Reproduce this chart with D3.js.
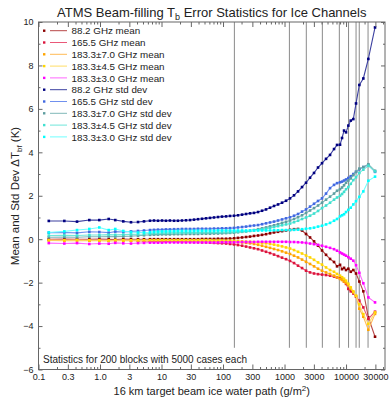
<!DOCTYPE html>
<html>
<head>
<meta charset="utf-8">
<script src="https://cdn.jsdelivr.net/npm/d3@7"></script>
<style>
  body { margin: 0; background: #fff; }
  svg { display: block; font-family: "Liberation Sans", Arial, Helvetica, sans-serif; }
</style>
</head>
<body>
<svg id="chart" width="390" height="400"></svg>
<script>
// Block-mean ice water path (g/m^2) of each plotted block
const iwp = [0.147,0.263,0.423,0.67,0.974,1.385,1.77,2.39,3.19,4.15,5.19,6.50,
  7.55,8.77,10.2,11.8,13.7,16.0,18.5,21.5,25.0,29.1,33.8,39.2,45.6,52.9,61.5,71.4,82.9,96.3,112,130,
  151,175,204,237,275,319,371,431,500,581,675,784,911,1058,1229,1427,1658,1926,2237,2598,3018,3505,4072,4730,5494,
  6381,7142,7989,8610,9280,10000,10900,11930,13140,14540,16460,19110,23050,29610];

// Mean beam-filling error (K)
const mean882 = [0.00,0.01,-0.01,0.00,0.01,0.00,-0.02,0.01,0.00,0.00,0.00,0.00,
  0.00,0.00,0.00,0.00,0.00,0.00,0.00,0.00,0.00,0.00,0.00,0.00,0.01,0.01,0.01,0.01,0.02,0.02,0.02,0.03,
  0.04,0.06,0.08,0.10,0.12,0.15,0.17,0.20,0.23,0.27,0.31,0.34,0.37,0.40,0.43,0.46,0.47,0.40,0.24,0.08,-0.10,-0.30,-0.52,-0.72,-0.91,
  -1.05,-1.25,-1.18,-1.38,-1.32,-1.42,-1.36,-1.50,-1.42,-1.58,-1.95,-2.40,-3.60,-4.49];
const mean1655 = [-0.03,-0.04,-0.02,-0.05,-0.04,-0.06,-0.05,-0.05,-0.06,-0.07,-0.08,-0.09,
  -0.10,-0.10,-0.11,-0.11,-0.12,-0.12,-0.12,-0.13,-0.13,-0.13,-0.14,-0.14,-0.15,-0.15,-0.16,-0.17,-0.18,-0.19,-0.20,-0.22,
  -0.24,-0.27,-0.30,-0.34,-0.38,-0.42,-0.46,-0.52,-0.58,-0.64,-0.71,-0.78,-0.85,-0.92,-1.00,-1.10,-1.22,-1.33,-1.45,-1.53,-1.58,-1.61,-1.63,-1.65,-1.68,
  -1.72,-1.76,-1.80,-1.83,-1.95,-2.06,-2.29,-2.40,-2.50,-2.65,-2.83,-3.14,-3.67,-3.34];
const mean1837 = [-0.06,-0.07,-0.06,-0.07,-0.07,-0.08,-0.07,-0.07,-0.07,-0.07,-0.07,-0.07,
  -0.07,-0.07,-0.07,-0.07,-0.07,-0.07,-0.07,-0.07,-0.07,-0.07,-0.07,-0.07,-0.08,-0.08,-0.08,-0.09,-0.09,-0.10,-0.10,-0.11,
  -0.12,-0.13,-0.15,-0.17,-0.19,-0.22,-0.26,-0.30,-0.35,-0.40,-0.45,-0.50,-0.56,-0.62,-0.68,-0.76,-0.84,-0.94,-1.04,-1.14,-1.25,-1.36,-1.45,-1.53,-1.60,
  -1.68,-1.76,-1.83,-1.88,-1.95,-2.02,-2.12,-2.29,-2.45,-2.62,-3.20,-3.57,-4.17,-3.44];
const mean18345 = [-0.04,-0.05,-0.04,-0.05,-0.05,-0.06,-0.05,-0.05,-0.05,-0.05,-0.05,-0.05,
  -0.05,-0.05,-0.05,-0.05,-0.05,-0.05,-0.05,-0.05,-0.05,-0.05,-0.05,-0.05,-0.05,-0.05,-0.05,-0.06,-0.06,-0.06,-0.07,-0.07,
  -0.08,-0.09,-0.10,-0.11,-0.12,-0.13,-0.15,-0.17,-0.19,-0.22,-0.25,-0.29,-0.33,-0.38,-0.43,-0.50,-0.58,-0.66,-0.75,-0.84,-0.95,-1.07,-1.17,-1.30,-1.42,
  -1.50,-1.60,-1.68,-1.75,-1.82,-1.91,-2.05,-2.22,-2.40,-2.60,-3.00,-3.45,-3.90,-3.37];
const mean1833 = [-0.18,-0.20,-0.18,-0.22,-0.20,-0.21,-0.17,-0.19,-0.20,-0.18,-0.17,-0.16,
  -0.16,-0.16,-0.16,-0.15,-0.15,-0.15,-0.15,-0.15,-0.15,-0.15,-0.15,-0.15,-0.15,-0.15,-0.15,-0.15,-0.15,-0.14,-0.14,-0.14,
  -0.14,-0.14,-0.13,-0.13,-0.13,-0.13,-0.12,-0.12,-0.12,-0.12,-0.12,-0.12,-0.12,-0.12,-0.13,-0.13,-0.14,-0.15,-0.17,-0.20,-0.23,-0.26,-0.30,-0.35,-0.40,
  -0.46,-0.53,-0.61,-0.66,-0.71,-0.76,-0.83,-0.90,-0.99,-1.20,-1.55,-2.03,-2.68,-2.91];

// Standard deviation of the beam-filling error (K)
const std882 = [0.84,0.84,0.81,0.88,0.88,0.93,0.88,0.82,0.78,0.79,0.82,0.85,
  0.86,0.85,0.86,0.85,0.86,0.85,0.85,0.86,0.87,0.88,0.90,0.92,0.94,0.96,0.98,1.00,1.02,1.04,1.05,1.07,
  1.08,1.10,1.13,1.16,1.19,1.21,1.25,1.31,1.37,1.45,1.53,1.60,1.68,1.77,1.88,2.02,2.20,2.40,2.60,2.83,3.05,3.30,3.50,3.70,3.88,
  4.15,4.34,4.35,4.66,5.00,4.92,5.23,5.46,5.53,6.25,7.10,7.40,8.30,9.75];
const std1655 = [0.30,0.31,0.29,0.34,0.33,0.30,0.35,0.33,0.36,0.38,0.40,0.42,
  0.43,0.44,0.44,0.45,0.45,0.46,0.46,0.47,0.47,0.47,0.47,0.48,0.48,0.48,0.48,0.49,0.49,0.50,0.50,0.51,
  0.52,0.54,0.56,0.58,0.61,0.63,0.65,0.69,0.73,0.77,0.81,0.86,0.91,0.96,1.01,1.08,1.16,1.27,1.37,1.50,1.63,1.76,1.88,2.10,2.35,
  2.50,2.58,2.62,2.65,2.70,2.75,2.82,2.90,3.00,3.10,3.22,3.32,3.42,3.10];
const std1837 = [0.09,0.10,0.09,0.11,0.11,0.12,0.12,0.13,0.14,0.16,0.18,0.20,
  0.21,0.21,0.22,0.22,0.22,0.23,0.23,0.23,0.24,0.24,0.24,0.24,0.25,0.25,0.25,0.26,0.26,0.27,0.28,0.29,
  0.30,0.32,0.34,0.36,0.39,0.42,0.46,0.50,0.54,0.59,0.64,0.69,0.75,0.80,0.86,0.93,1.01,1.10,1.21,1.32,1.43,1.55,1.68,1.82,1.96,
  2.10,2.23,2.30,2.38,2.48,2.60,2.70,2.80,2.95,3.10,3.25,3.32,3.45,3.15];
const std18345 = [0.17,0.18,0.17,0.19,0.19,0.21,0.20,0.21,0.22,0.23,0.24,0.26,
  0.27,0.27,0.28,0.28,0.29,0.29,0.29,0.30,0.30,0.30,0.30,0.30,0.31,0.31,0.31,0.31,0.31,0.32,0.32,0.32,
  0.33,0.34,0.35,0.36,0.38,0.40,0.42,0.45,0.48,0.52,0.56,0.60,0.64,0.68,0.72,0.78,0.85,0.93,1.00,1.08,1.18,1.30,1.43,1.55,1.68,
  1.82,1.92,2.00,2.08,2.18,2.30,2.40,2.55,2.72,2.85,3.05,3.20,3.38,3.12];
const std1833 = [0.31,0.36,0.42,0.47,0.54,0.42,0.47,0.38,0.33,0.31,0.31,0.32,
  0.34,0.35,0.36,0.36,0.37,0.37,0.38,0.38,0.38,0.38,0.39,0.39,0.39,0.39,0.39,0.39,0.40,0.40,0.40,0.40,
  0.40,0.40,0.40,0.40,0.40,0.40,0.40,0.40,0.40,0.40,0.41,0.41,0.42,0.42,0.42,0.43,0.44,0.46,0.48,0.50,0.53,0.58,0.62,0.68,0.75,
  0.85,0.93,1.05,1.10,1.15,1.25,1.35,1.45,1.60,1.75,1.95,2.20,2.69,2.88];

const seriesNames = ["88.2 GHz mean","165.5 GHz mean","183.3\u00b17.0 GHz mean","183.3\u00b14.5 GHz mean","183.3\u00b13.0 GHz mean",
  "88.2 GHz std dev","165.5 GHz std dev","183.3\u00b17.0 GHz std dev","183.3\u00b14.5 GHz std dev","183.3\u00b13.0 GHz std dev"];
const seriesValues = [mean882, mean1655, mean1837, mean18345, mean1833, std882, std1655, std1837, std18345, std1833];
const dotColors  = ["#8b0000","#dc143c","#ffa500","#ffd700","#ff00ff","#000080","#4169e1","#5f9ea0","#40e0d0","#00ffff"];
const lineColors = ["#b84848","#ea5878","#ffbb55","#ffdd66","#ff66ff","#3c40a0","#7090ee","#80b8b8","#70e6da","#70ffff"];

// IWP values marked by vertical reference lines
const markerIwp = [153,1200,2260,4120,7780,10990,14550,16400,22800];

const xTickValues = [0.1,0.3,1,3,10,30,100,300,1000,3000,10000,30000];
const xTickLabels = ["0.1","0.3","1.0","3","10","30","100","300","1000","3000","10000","30000"];
const yTickValues = [-6,-4,-2,0,2,4,6,8,10];
const yMinorTicks = [-5,-3,-1,1,3,5,7,9];

const svg = d3.select("#chart");
const plotL = 38.5, plotR = 385, plotT = 22, plotB = 369.5;
const x = d3.scaleLog().domain([0.1, 43000]).range([plotL, plotR]);
const y = d3.scaleLinear().domain([-6, 10]).range([plotB, plotT]);

// minor x ticks: integer multiples within each decade not already labelled
const xMinor = [];
for (let p = -1; p <= 4; p++) {
  for (let m = 2; m <= 9; m++) {
    const v = m * Math.pow(10, p);
    if (m !== 3 && v < 43000) xMinor.push(+v.toPrecision(3));
  }
}

const frameColor = "#666";
const markSize = 2.6;

// vertical reference lines
svg.append("g").selectAll("line").data(markerIwp).join("line")
  .attr("x1", d => x(d)).attr("x2", d => x(d))
  .attr("y1", y(10)).attr("y2", y(-5))
  .attr("stroke", "#8a8a8a").attr("stroke-width", 1);

// data series: thin connecting line plus a small square at every block
const plot = svg.append("g");
seriesValues.forEach((vals, s) => {
  const pts = iwp.map((w, i) => ({ w, v: vals[i] }));
  plot.append("path").datum(pts)
    .attr("fill", "none").attr("stroke", lineColors[s]).attr("stroke-width", 1.1)
    .attr("d", d3.line().x(d => x(d.w)).y(d => y(d.v)));
  plot.append("g").selectAll("rect").data(pts).join("rect")
    .attr("x", d => x(d.w) - markSize / 2).attr("y", d => y(d.v) - markSize / 2)
    .attr("width", markSize).attr("height", markSize)
    .attr("fill", dotColors[s]);
});

// axes (ticks point inward)
function styleAxis(g) {
  g.select(".domain").remove();
  g.selectAll("line").attr("stroke", frameColor);
  g.selectAll("text").attr("fill", "#222").attr("font-size", 9);
}
svg.append("g").attr("transform", `translate(0,${plotB})`)
  .call(d3.axisBottom(x).tickValues(xTickValues).tickFormat((d, i) => xTickLabels[i]).tickSize(-5).tickPadding(4))
  .call(styleAxis);
svg.append("g").attr("transform", `translate(0,${plotB})`)
  .call(d3.axisBottom(x).tickValues(xMinor).tickFormat("").tickSize(-2.5))
  .call(styleAxis);
svg.append("g").attr("transform", `translate(0,${plotT})`)
  .call(d3.axisTop(x).tickValues(xTickValues).tickFormat("").tickSize(-5))
  .call(styleAxis);
svg.append("g").attr("transform", `translate(0,${plotT})`)
  .call(d3.axisTop(x).tickValues(xMinor).tickFormat("").tickSize(-2.5))
  .call(styleAxis);
svg.append("g").attr("transform", `translate(${plotL},0)`)
  .call(d3.axisLeft(y).tickValues(yTickValues).tickFormat(d3.format("d")).tickSize(-4).tickPadding(5))
  .call(styleAxis);
svg.append("g").attr("transform", `translate(${plotL},0)`)
  .call(d3.axisLeft(y).tickValues(yMinorTicks).tickFormat("").tickSize(-2))
  .call(styleAxis);
svg.append("g").attr("transform", `translate(${plotR},0)`)
  .call(d3.axisRight(y).tickValues(yTickValues).tickFormat("").tickSize(-4))
  .call(styleAxis);
svg.append("g").attr("transform", `translate(${plotR},0)`)
  .call(d3.axisRight(y).tickValues(yMinorTicks).tickFormat("").tickSize(-2))
  .call(styleAxis);

// frame
svg.append("rect").attr("x", plotL).attr("y", plotT)
  .attr("width", plotR - plotL).attr("height", plotB - plotT)
  .attr("fill", "none").attr("stroke", frameColor).attr("stroke-width", 1);

// legend
const legend = svg.append("g");
seriesNames.forEach((name, i) => {
  const cy = 30.7 + i * 11.8;
  legend.append("rect").attr("x", 43).attr("y", cy - 1.2).attr("width", 2.4).attr("height", 2.4).attr("fill", dotColors[i]);
  legend.append("line").attr("x1", 50).attr("x2", 67).attr("y1", cy).attr("y2", cy)
    .attr("stroke", lineColors[i]).attr("stroke-width", 1);
  legend.append("text").attr("x", 71.5).attr("y", cy + 3.6)
    .attr("font-size", 9.8).attr("fill", "#222").text(name);
});

// note inside the plot
svg.append("text").attr("x", 43).attr("y", 363).attr("font-size", 10).attr("fill", "#222")
  .text("Statistics for 200 blocks with 5000 cases each");

// title
const title = svg.append("text").attr("x", (plotL + plotR) / 2).attr("y", 16.5)
  .attr("text-anchor", "middle").attr("font-size", 13).attr("fill", "#222");
title.append("tspan").text("ATMS Beam-filling T");
title.append("tspan").attr("font-size", 9).attr("dy", 3).text("b");
title.append("tspan").attr("dy", -3).text(" Error Statistics for Ice Channels");

// x axis title
const xt = svg.append("text").attr("x", (plotL + plotR) / 2).attr("y", 395)
  .attr("text-anchor", "middle").attr("font-size", 11).attr("fill", "#222");
xt.append("tspan").text("16 km target beam ice water path (g/m");
xt.append("tspan").attr("font-size", 8).attr("dy", -4).text("2");
xt.append("tspan").attr("dy", 4).text(")");

// y axis title
const yt = svg.append("text").attr("transform", "translate(18.5,196) rotate(-90)")
  .attr("text-anchor", "middle").attr("font-size", 11.5).attr("fill", "#222");
yt.append("tspan").text("Mean and Std Dev \u0394T");
yt.append("tspan").attr("font-size", 8).attr("dy", 3).text("bf");
yt.append("tspan").attr("dy", -3).text(" (K)");
</script>
</body>
</html>
